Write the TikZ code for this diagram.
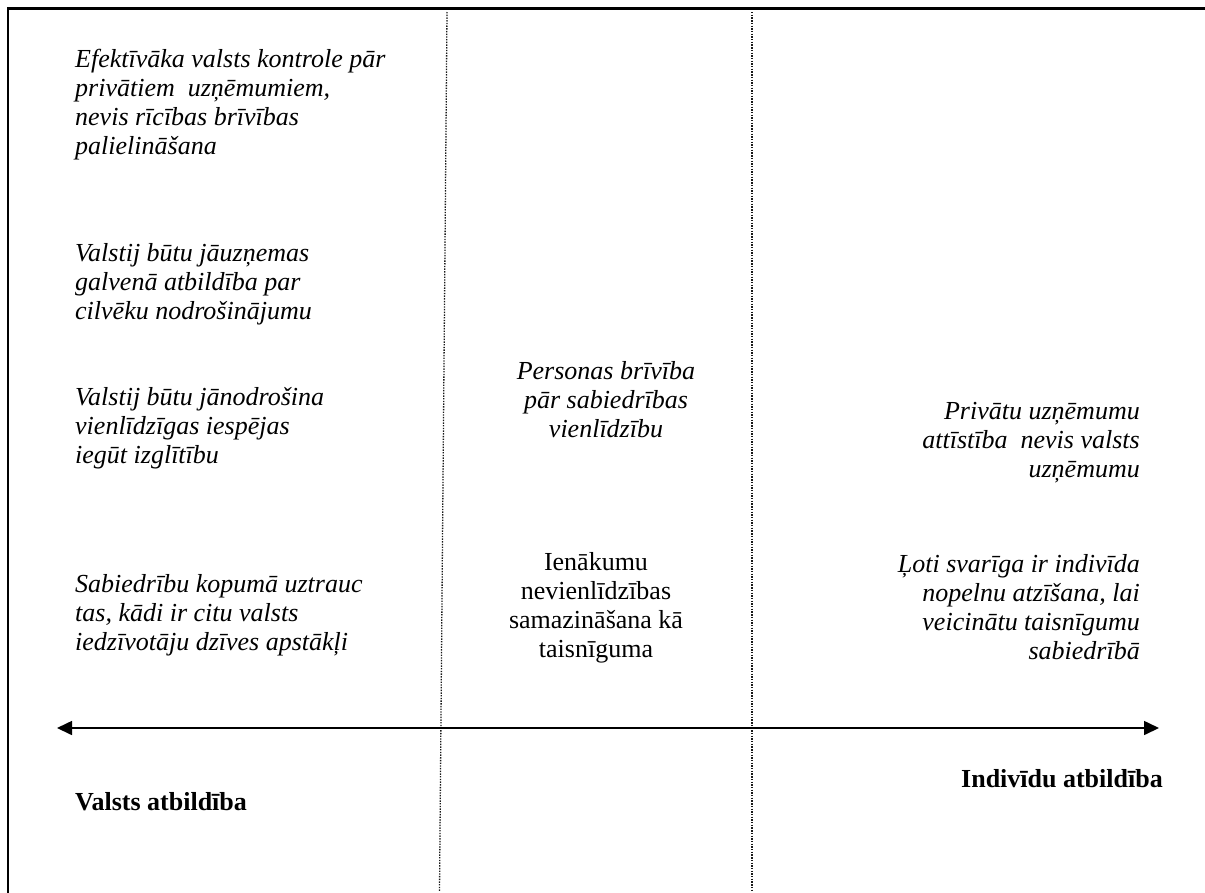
\documentclass[tikz,border=0pt]{standalone}
\usepackage{fontspec}
\setmainfont{Liberation Serif}
\usetikzlibrary{arrows.meta}
\begin{document}
\begin{tikzpicture}[x=1pt,y=-1pt,
  frame/.style={line width=2.2pt, line cap=rect},
  divider/.style={line width=1.3pt, dash pattern=on 1.4pt off 1.3pt, draw=black!90},
  axis/.style={line width=1.6pt, {Triangle[length=15pt,width=14pt]}-{Triangle[length=15pt,width=14pt]}},
  txt/.style={inner sep=0pt, font=\fontsize{26}{29}\selectfont\itshape},
  lefttxt/.style={txt, align=left, anchor=base west},
  righttxt/.style={txt, align=right, anchor=base east},
  midtxt/.style={txt, align=center, anchor=base},
  midup/.style={midtxt, font=\fontsize{26}{29}\selectfont},
  label/.style={inner sep=0pt, font=\fontsize{26}{29}\selectfont\bfseries}
]
\useasboundingbox (0,0) rectangle (1205,892);
% frame
\coordinate (tl) at (8,8.5);
\coordinate (tr) at (1205,8.5);
\coordinate (bl) at (8,892);
\draw[frame] (bl) -- (tl) -- (tr);
% dividers
\coordinate (d1t) at (447,12);
\coordinate (d1b) at (439.5,892);
\coordinate (d2t) at (752,12);
\coordinate (d2b) at (752,892);
\draw[divider] (d1t) -- (d1b);
\draw[divider] (d2t) -- (d2b);
% axis
\coordinate (aL) at (57,728);
\coordinate (aR) at (1159,728);
\draw[axis] (aL) -- (aR);
% left column (anchor = baseline of last line)
\node[lefttxt] (l1) at (75,154) {Efektīvāka valsts kontrole pār\\privātiem\ \ uzņēmumiem,\\nevis rīcības brīvības\\palielināšana};
\node[lefttxt] (l2) at (75,319) {Valstij būtu jāuzņemas\\galvenā atbildība par\\cilvēku nodrošinājumu};
\node[lefttxt] (l3) at (75,463) {Valstij būtu jānodrošina\\vienlīdzīgas iespējas\\iegūt izglītību};
\node[lefttxt] (l4) at (75,650) {Sabiedrību kopumā uztrauc\\tas, kādi ir citu valsts\\iedzīvotāju dzīves apstākļi};
% middle column
\node[midtxt] (m1) at (606,437) {Personas brīvība\\pār sabiedrības\\vienlīdzību};
\node[midup] (m2) at (596,657) {Ienākumu\\nevienlīdzības\\samazināšana kā\\taisnīguma};
% right column
\node[righttxt] (r1) at (1140,477) {Privātu uzņēmumu\\attīstība\ \ nevis valsts\\uzņēmumu};
\node[righttxt] (r2) at (1140,659) {Ļoti svarīga ir indivīda\\nopelnu atzīšana, lai\\veicinātu taisnīgumu\\sabiedrībā};
% axis labels
\node[label, anchor=base west] (valsts) at (75,810) {Valsts atbildība};
\node[label, anchor=base east] (indiv) at (1163,787) {Indivīdu atbildība};
\end{tikzpicture}
\end{document}
